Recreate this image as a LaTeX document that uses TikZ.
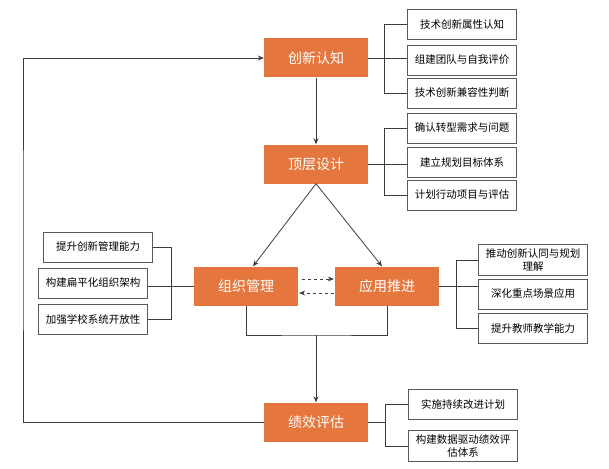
\documentclass[tikz,border=0pt]{standalone}
\usepackage{fontspec}
\setmainfont{Noto Sans CJK SC}
\usetikzlibrary{arrows.meta}
\definecolor{stagefill}{HTML}{E5773E}
\definecolor{linegray}{HTML}{3C3C3C}
\definecolor{boxgray}{HTML}{5A5A5A}
\tikzset{
    stage/.style={rectangle, fill=stagefill, text=white, minimum width=104pt, minimum height=39pt, inner sep=0pt, font=\fontsize{14}{16}\selectfont},
    item/.style={rectangle, draw=boxgray, line width=0.9pt, fill=white, minimum width=109pt, minimum height=30pt, inner sep=1pt, align=center, font=\fontsize{10.5}{12.5}\selectfont},
    link/.style={draw=linegray, line width=0.8pt},
}
\begin{document}
\begin{tikzpicture}[x=1pt, y=-1pt, >={Stealth[length=6pt, width=5pt]}]
        \useasboundingbox[fill=white] (0, 0) rectangle (609, 468);

        \draw (316, 58) node[stage] (cx) {创新认知};
        \draw (316, 164) node[stage] (dj) {顶层设计};
        \draw (246, 286) node[stage] (zz) {组织管理};
        \draw (387, 286) node[stage] (yy) {应用推进};
        \draw (316, 422) node[stage] (jx) {绩效评估};

        \draw (462, 24) node[item] (t1) {技术创新属性认知};
        \draw (462, 60) node[item] (t2) {组建团队与自我评价};
        \draw (462, 93) node[item] (t3) {技术创新兼容性判断};

        \draw (462, 128) node[item] (d1) {确认转型需求与问题};
        \draw (462, 162) node[item] (d2) {建立规划目标体系};
        \draw (462, 195) node[item] (d3) {计划行动项目与评估};

        \draw (98, 247) node[item] (z1) {提升创新管理能力};
        \draw (93, 283) node[item] (z2) {构建扁平化组织架构};
        \draw (93, 319) node[item] (z3) {加强学校系统开放性};

        \draw (533, 260) node[item, minimum height=31pt] (y1) {推动创新认同与规划\\理解};
        \draw (533, 294) node[item] (y2) {深化重点场景应用};
        \draw (533, 328) node[item] (y3) {提升教师教学能力};

        \draw (463, 404) node[item] (j1) {实施持续改进计划};
        \draw (463, 446) node[item, minimum height=31pt] (j2) {构建数据驱动绩效评\\估体系};

        % main flow
        \draw [link, ->] (cx) to (dj);
        \draw [link, ->] (dj.south) to ([xshift=7pt]zz.north);
        \draw [link, ->] (dj.south) to ([xshift=-5pt]yy.north);
        \draw [link, dashed, ->, shorten <=4pt, shorten >=1pt] ([yshift=7pt]zz.east) to ([yshift=7pt]zz.east -| yy.west);
        \draw [link, dashed, ->, shorten <=1pt, shorten >=1pt] ([yshift=-7pt]yy.west) to ([yshift=-7pt]yy.west -| zz.east);
        \coordinate (m) at (316, 335);
        \draw [link] (zz.south) |- (m) -| (yy.south);
        \draw [link, ->] (m) to (jx);
        \coordinate (fb) at (23, 240);
        \draw [link, ->] (jx.west) -| (fb) |- (cx.west);

        % brackets
        \draw [link] (cx.east) -- ++(16, 0) coordinate (b1);
        \draw [link] (t1.west) -| (b1) |- (t3.west);
        \draw [link] (b1) to (b1 -| t2.west);

        \draw [link] (dj.east) -- ++(16, 0) coordinate (b2);
        \draw [link] (d1.west) -| (b2) |- (d3.west);
        \draw [link] (b2) to (b2 -| d2.west);

        \draw [link] (zz.west) -- ++(-22, 0) coordinate (b3);
        \draw [link] (z1.east) -| (b3) |- (z3.east);
        \draw [link] (b3) to (b3 -| z2.east);

        \draw [link] (yy.east) -- ++(17, 0) coordinate (b4);
        \draw [link] (y1.west) -| (b4) |- (y3.west);
        \draw [link] (b4) to (b4 -| y2.west);

        \draw [link] (jx.east) -- ++(17, 0) coordinate (b5);
        \draw [link] (j1.west) -| (b5) |- (j2.west);
\end{tikzpicture}
\end{document}
